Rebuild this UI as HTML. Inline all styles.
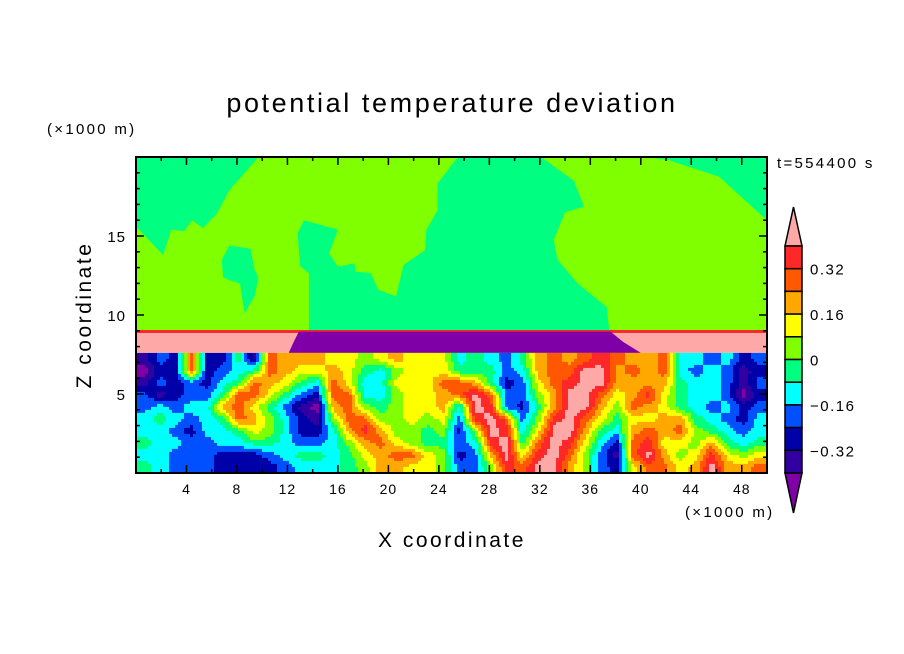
<!DOCTYPE html>
<html><head><meta charset="utf-8"><style>
body{margin:0;background:#fff;}
svg{display:block;font-family:"Liberation Sans",sans-serif;}
</style></head><body>
<svg id="chart" width="904" height="654" viewBox="0 0 904 654" xmlns="http://www.w3.org/2000/svg">
<defs><clipPath id="pc"><rect x="136" y="157" width="631" height="316"/></clipPath></defs>
<rect width="904" height="654" fill="#fff"/>
<text x="452" y="112" font-size="27" letter-spacing="2.6" text-anchor="middle">potential temperature deviation</text>
<text x="47" y="134" font-size="15" letter-spacing="2.3">(×1000 m)</text>
<text x="777" y="168" font-size="15" letter-spacing="2.3">t=554400 s</text>
<text transform="translate(91,315) rotate(-90)" font-size="21" letter-spacing="2.5" text-anchor="middle">Z coordinate</text>
<text x="452" y="547" font-size="21" letter-spacing="2.5" text-anchor="middle">X coordinate</text>
<text x="685" y="517" font-size="15" letter-spacing="2.3">(×1000 m)</text>
<g id="plot" clip-path="url(#pc)"></g>
<g id="axes"></g>
<g id="cbar"></g>
</svg>
<script>
const NS="http://www.w3.org/2000/svg";
const levelColors=["#8000a8","#3000a0","#0000a8","#0050ff","#00ffff","#00ff80","#80ff00","#ffff00","#ffa800","#ff5800","#ff2828","#ffa8a8"];
const levelTicks=["0.32","0.16","0","−0.16","−0.32"];
const levelTickValues=[0.32,0.16,0,-0.16,-0.32];
const xTicks=[4,8,12,16,20,24,28,32,36,40,44,48];
const yTicks=[5,10,15];
// lower turbulent region: level index per cell, rows top (z≈7.6) to bottom (z=0), 40 cols of 1.25 km
const gridRows=[
"13292251988877678777"+"454358989a9889443423",
"02292345987787546777"+"55534899bb8989434312",
"13232459875497447779"+"9852379abb8888544313",
"31233599753299446778"+"9b93368bb978a7544302",
"34344897531089656778"+"4ba3258bb86987543423",
"45434598642169966767"+"3ab936ab975778854324",
"44324457642248a86656"+"26ba47bb854898965434",
"54433445543346897655"+"34ab59ba7429a7768545",
"44333222345545789976"+"238b7ab96319b867a767",
"54333222234445688776"+"336a9bb863279978b889"
];
const greenLeft=[[0,20],[0,15.6],[2.15,13.8],[2.8,15.4],[3.8,15.3],[4.45,16],[5.3,15.5],[6.4,16.4],[7.4,17.9],[8.4,18.8],[9.7,20]];
const greenIsland=[[6.8,13.5],[7.4,14.4],[9.06,14.2],[9.4,12.85],[9.7,12.4],[9.4,11.2],[8.6,10.1],[8.24,12],[7.4,12.2],[6.9,12.4]];
const greenCentral=[[25.5,20],[32.1,20],[34.7,18.5],[35.5,16.85],[34,16.5],[33.1,14.75],[33.4,13.5],[35,12],[37.3,10.5],[37.5,9],[13.7,9],[13.7,12.64],[13,13.1],[12.8,15.17],[13.3,16],[16,15.4],[15.3,13.9],[16,13.06],[17.3,13.27],[17.4,12.75],[18.6,12.64],[19.2,11.6],[20.6,11.17],[21.2,13.17],[22.9,14.1],[23,15.38],[23.9,16.64],[23.9,18.33]];
const greenRight=[[40.4,20],[50,20],[50,16],[48.2,17.3],[46.2,18.75],[42.2,19.8]];
const lgPatch=[[43.2,9.25],[44.2,11.17],[45.2,11.17],[45.9,9.9],[45.9,9.25]];
const X0=136,X1=767,Y0=473,Y1=157;
const xs=v=>X0+(v/50)*(X1-X0);
const ys=v=>Y0-(v/20)*(Y0-Y1);
const plot=document.getElementById('plot');
function add(parent,tag,attrs){const e=document.createElementNS(NS,tag);for(const k in attrs)e.setAttribute(k,attrs[k]);parent.appendChild(e);return e;}
function poly(pts,col,name){const e=add(plot,'polygon',{points:pts.map(p=>xs(p[0])+','+ys(p[1])).join(' '),fill:col});

}
let bg=add(plot,'rect',{x:xs(0),y:ys(20),width:xs(50)-xs(0),height:ys(9)-ys(20),fill:levelColors[6]});


poly(greenLeft,levelColors[5],'green-patch-left');
poly(greenIsland,levelColors[5],'green-patch-island');
poly(greenCentral,levelColors[5],'green-patch-central');
poly(greenRight,levelColors[5],'green-patch-right');
poly(lgPatch,levelColors[6],'light-green-patch');
poly([[0,9.05],[50,9.05],[50,8.85],[0,8.85]],levelColors[10],'red-line-band');
poly([[0,8.85],[50,8.85],[50,7.6],[0,7.6]],levelColors[11],'pink-band');
poly([[12.9,8.95],[37.6,8.95],[38.6,8.3],[40,7.6],[12.1,7.6],[12.5,8.3]],levelColors[0],'purple-band');
// smooth rendering of grid: bilinear interpolation of cell-centre values, then quantised
const vals=gridRows.map(r=>r.split('').map(c=>parseInt(c,16)));
const nR=vals.length,nC=vals[0].length,zTop=7.6;
function sample(x,z){
  let fc=x/50*nC-0.5, fr=(zTop-z)/zTop*nR-0.5;
  fc=Math.max(0,Math.min(nC-1,fc)); fr=Math.max(0,Math.min(nR-1,fr));
  const c0=Math.floor(fc),r0=Math.floor(fr),c1=Math.min(nC-1,c0+1),r1=Math.min(nR-1,r0+1);
  const tx=fc-c0,ty=fr-r0;
  const a=vals[r0][c0]*(1-tx)+vals[r0][c1]*tx, b=vals[r1][c0]*(1-tx)+vals[r1][c1]*tx;
  return a*(1-ty)+b*ty;
}
const step=3;
const pyTop=ys(zTop);
for(let py=pyTop;py<Y0;py+=step){
  let runStart=X0,runLv=-1;
  for(let px=X0;px<=X1+step;px+=step){
    const xd=(px+step/2-X0)/(X1-X0)*50, zd=(Y0-(py+step/2))/(Y0-Y1)*20;
    const lv=px>X1?-2:Math.max(0,Math.min(11,Math.round(sample(xd,zd))));
    if(lv!==runLv){
      if(runLv>=0){const r=add(plot,'rect',{x:runStart,y:py,width:px-runStart+0.5,height:step+0.5,fill:levelColors[runLv]});
        
        }
      runStart=px;runLv=lv;
    }
  }
}
// axes
const ax=document.getElementById('axes');
let fr=add(ax,'rect',{x:X0,y:Y1,width:X1-X0,height:Y0-Y1,fill:'none',stroke:'#000','stroke-width':2});


for(let v=2;v<50;v+=2){const L=(v%4===0)?8:4;
 add(ax,'line',{x1:xs(v),x2:xs(v),y1:Y0,y2:Y0-L,stroke:'#000','stroke-width':1.5});
 add(ax,'line',{x1:xs(v),x2:xs(v),y1:Y1,y2:Y1+L,stroke:'#000','stroke-width':1.5});}
for(let v=1;v<20;v++){const L=(v%5===0)?8:4;
 add(ax,'line',{y1:ys(v),y2:ys(v),x1:X0,x2:X0+L,stroke:'#000','stroke-width':1.5});
 add(ax,'line',{y1:ys(v),y2:ys(v),x1:X1,x2:X1-L,stroke:'#000','stroke-width':1.5});}
xTicks.forEach(v=>{const t=add(ax,'text',{x:xs(v),y:494,'font-size':14,'letter-spacing':1,'text-anchor':'middle'});t.textContent=v;

});
yTicks.forEach(v=>{const t=add(ax,'text',{x:126,y:ys(v)+6,'font-size':15,'letter-spacing':1,'text-anchor':'end'});t.textContent=v;

});
// colorbar
const cb=document.getElementById('cbar');
const cx0=785,cx1=802,cTop=246,cBot=473,nb=10,bh=(cBot-cTop)/nb;
const cv=v=>cTop+(0.4-v)/0.8*(cBot-cTop);
add(cb,'polygon',{points:`${cx0},${cTop} ${cx1},${cTop} ${(cx0+cx1)/2},207`,fill:levelColors[11],stroke:'#000','stroke-width':1.5});
add(cb,'polygon',{points:`${cx0},${cBot} ${cx1},${cBot} ${(cx0+cx1)/2},513`,fill:levelColors[0],stroke:'#000','stroke-width':1.5});
for(let i=0;i<nb;i++){const r=add(cb,'rect',{x:cx0,y:cTop+i*bh,width:cx1-cx0,height:bh,fill:levelColors[10-i],stroke:'#000','stroke-width':1.5});

}
levelTicks.forEach((s,i)=>{const t=add(cb,'text',{x:810,y:cv(levelTickValues[i])+6,'font-size':15,'letter-spacing':1.5});t.textContent=s;

});
</script>
</body></html>
